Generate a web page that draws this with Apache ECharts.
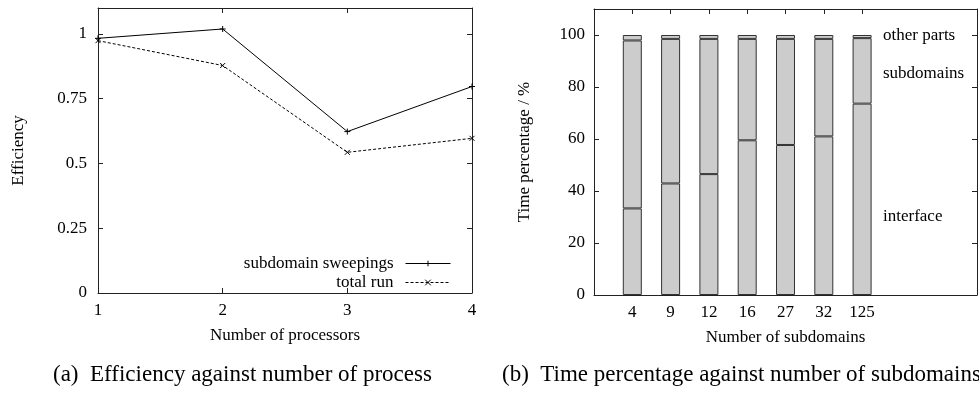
<!DOCTYPE html>
<html>
<head>
<meta charset="utf-8">
<script src="https://cdn.jsdelivr.net/npm/echarts@6/dist/echarts.min.js"></script>
<style>
  html, body { margin: 0; padding: 0; background: #fff; }
  #chart { width: 979px; height: 394px; }
</style>
</head>
<body>
<div id="chart"></div>
<script>
// (a) efficiency
const processors = [1, 2, 3, 4]
const sweepings = [0.983, 1.019, 0.623, 0.797]
const totalRun = [0.974, 0.878, 0.543, 0.597]
const effTicks = [0, 0.25, 0.5, 0.75, 1]

// (b) time percentage
const subdomainCounts = ['4', '9', '12', '16', '27', '32', '125']
const interfacePct = [33.3, 42.9, 46.5, 59.5, 57.7, 61.0, 73.6]
const subdomainPct = [64.6, 55.6, 52.0, 39.0, 40.8, 37.5, 25.2]
const otherPct = [2.1, 1.5, 1.5, 1.5, 1.5, 1.5, 1.2]

const FONT = 'Liberation Serif'
const INK = '#222'

// pad the category axis: one empty slot on the left, three on the right
const padLeft = 1
const padRight = 3
const catAxis = [].concat(Array(padLeft).fill(''), subdomainCounts, Array(padRight).fill(''))
const pad = arr => [].concat(Array(padLeft).fill('-'), arr, Array(padRight).fill('-'))
const isCat = i => i >= padLeft && i < padLeft + subdomainCounts.length

const chart = echarts.init(document.getElementById('chart'))

const tick = { show: true, inside: true, length: 5, lineStyle: { color: INK, width: 1 } }
const line = { show: true, onZero: false, lineStyle: { color: INK, width: 1 } }
const label = { color: '#000', fontFamily: FONT, fontSize: 17 }
const name = { color: '#000', fontFamily: FONT, fontSize: 17 }

const barStyle = { color: '#cccccc', borderColor: '#333', borderWidth: 1 }

chart.setOption({
  animation: false,
  textStyle: { fontFamily: FONT },
  grid: [
    { left: 98, right: 507, top: 8, bottom: 101 },
    { left: 594, right: 2, top: 9, bottom: 99 }
  ],
  xAxis: [
    {
      gridIndex: 0, type: 'value', min: 1, max: 4, interval: 1,
      name: 'Number of processors', nameLocation: 'middle', nameGap: 34, nameTextStyle: name,
      axisLine: line, axisTick: tick, splitLine: { show: false },
      axisLabel: Object.assign({ margin: 9 }, label)
    },
    {
      gridIndex: 0, type: 'value', min: 1, max: 4, interval: 1, position: 'top',
      axisLine: line, axisTick: tick, splitLine: { show: false }, axisLabel: { show: false }
    },
    {
      gridIndex: 1, type: 'category', data: catAxis, boundaryGap: false,
      name: 'Number of subdomains', nameLocation: 'middle', nameGap: 34, nameTextStyle: name,
      axisLine: line, axisTick: Object.assign({ interval: isCat }, tick), splitLine: { show: false },
      axisLabel: Object.assign({ interval: isCat, margin: 9 }, label)
    },
    {
      gridIndex: 1, type: 'category', data: catAxis, boundaryGap: false, position: 'top',
      axisLine: line, axisTick: Object.assign({ interval: isCat }, tick), splitLine: { show: false },
      axisLabel: { show: false }
    }
  ],
  yAxis: [
    {
      gridIndex: 0, type: 'value', min: 0, max: 1.1, interval: 0.25,
      name: 'Efficiency', nameLocation: 'middle', nameGap: 71, nameTextStyle: name,
      axisLine: line, axisTick: tick, splitLine: { show: false },
      axisLabel: Object.assign({
        margin: 11, showMaxLabel: false,
        formatter: v => effTicks.indexOf(v) >= 0 ? String(v) : ''
      }, label)
    },
    {
      gridIndex: 0, type: 'value', min: 0, max: 1.1, interval: 0.25, position: 'right',
      axisLine: line, axisTick: tick, splitLine: { show: false }, axisLabel: { show: false }
    },
    {
      gridIndex: 1, type: 'value', min: 0, max: 110, interval: 20,
      name: 'Time percentage / %', nameLocation: 'middle', nameGap: 61, nameTextStyle: name,
      axisLine: line, axisTick: tick, splitLine: { show: false },
      axisLabel: Object.assign({ margin: 9, showMaxLabel: false }, label)
    },
    {
      gridIndex: 1, type: 'value', min: 0, max: 110, interval: 20, position: 'right',
      axisLine: line, axisTick: tick, splitLine: { show: false }, axisLabel: { show: false }
    }
  ],
  legend: {
    orient: 'vertical', right: 523, top: 250, align: 'right',
    itemWidth: 45, itemHeight: 7, itemGap: 2,
    lineStyle: { width: 1 },
    itemStyle: { borderWidth: 1 },
    textStyle: { color: '#000', fontFamily: FONT, fontSize: 17, padding: [0, 7, 0, 0] },
    data: ['subdomain sweepings', 'total run']
  },
  series: [
    {
      name: 'subdomain sweepings', type: 'line', xAxisIndex: 0, yAxisIndex: 0,
      data: processors.map((p, i) => [p, sweepings[i]]),
      symbol: 'path://M0,5L10,5M5,0L5,10', symbolSize: 6,
      lineStyle: { color: '#000', width: 1 },
      itemStyle: { color: '#000', borderColor: '#000', borderWidth: 1 }
    },
    {
      name: 'total run', type: 'line', xAxisIndex: 0, yAxisIndex: 0,
      data: processors.map((p, i) => [p, totalRun[i]]),
      symbol: 'path://M0,0L10,10M10,0L0,10', symbolSize: 5,
      lineStyle: { color: '#000', width: 1, type: [3, 2] },
      itemStyle: { color: '#000', borderColor: '#000', borderWidth: 1 }
    },
    {
      name: 'interface', type: 'bar', stack: 'pct', xAxisIndex: 2, yAxisIndex: 2,
      barWidth: 19, data: pad(interfacePct), itemStyle: barStyle
    },
    {
      name: 'subdomains', type: 'bar', stack: 'pct', xAxisIndex: 2, yAxisIndex: 2,
      barWidth: 19, data: pad(subdomainPct), itemStyle: barStyle
    },
    {
      name: 'other parts', type: 'bar', stack: 'pct', xAxisIndex: 2, yAxisIndex: 2,
      barWidth: 19, data: pad(otherPct), itemStyle: barStyle
    }
  ],
  graphic: [
    { type: 'text', left: 883, top: 27, style: { text: 'other parts', fill: '#000', font: '17px "Liberation Serif"' } },
    { type: 'text', left: 883, top: 65, style: { text: 'subdomains', fill: '#000', font: '17px "Liberation Serif"' } },
    { type: 'text', left: 883, top: 208, style: { text: 'interface', fill: '#000', font: '17px "Liberation Serif"' } },
    { type: 'text', left: 53, top: 363, style: { text: '(a)  Efficiency against number of process', fill: '#000', font: '23px "Liberation Serif"' } },
    { type: 'text', left: 502, top: 363, style: { text: '(b)  Time percentage against number of subdomains', fill: '#000', font: '23px "Liberation Serif"' } }
  ]
})
</script>
</body>
</html>
